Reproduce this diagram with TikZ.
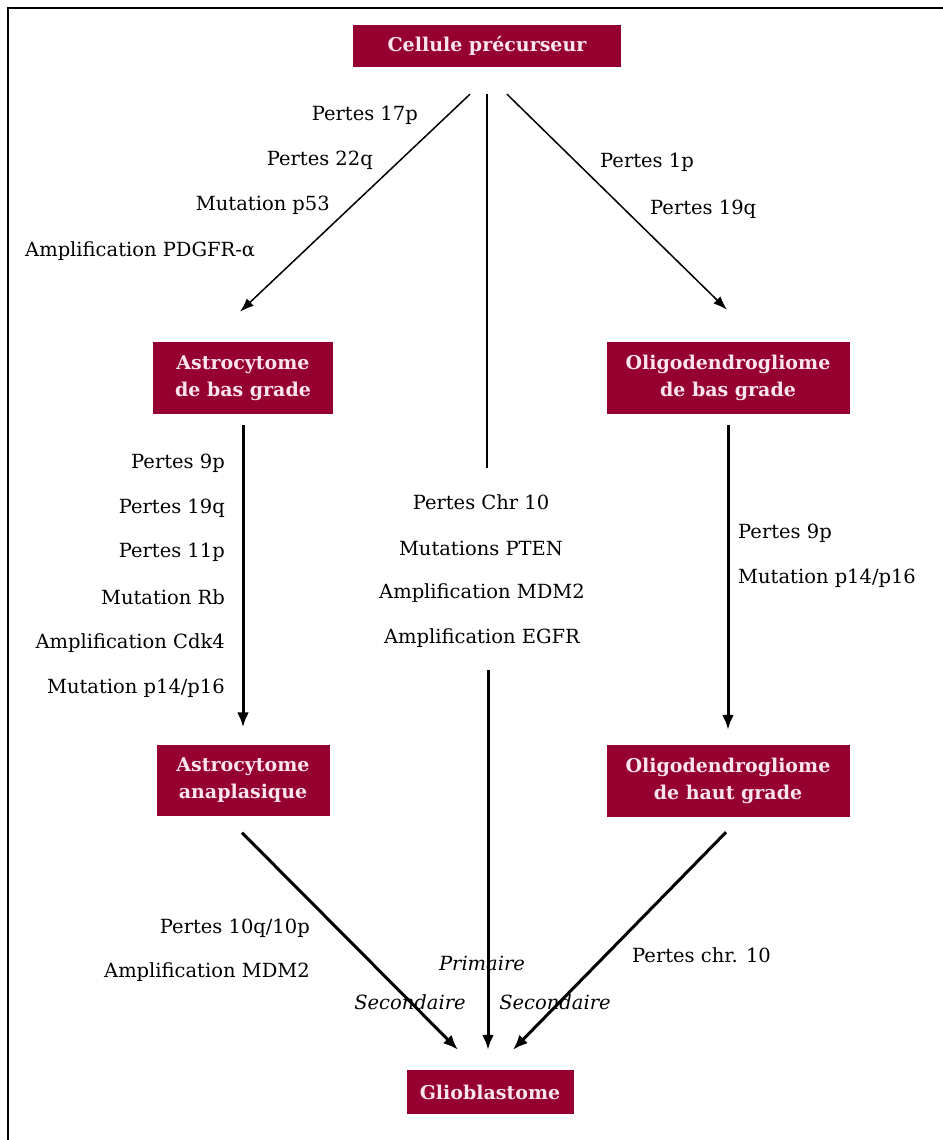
\documentclass[tikz,border=0pt]{standalone}
\usepackage{fontspec}
\setmainfont{DejaVu Serif}
\usetikzlibrary{arrows.meta,calc}
\definecolor{boxred}{RGB}{150,0,48}
\definecolor{boxtxt}{RGB}{250,228,238}
\begin{document}
\begin{tikzpicture}[x=1pt,y=-1pt,
  box/.style={fill=boxred, text=boxtxt, font=\bfseries\fontsize{19}{27}\selectfont,
    align=center, inner sep=0pt},
  lbl/.style={font=\fontsize{19.5}{22}\selectfont, inner sep=0pt},
  ilbl/.style={font=\itshape\fontsize{19.5}{22}\selectfont, inner sep=0pt},
  thinarr/.style={line width=1.5pt, -{Latex[length=14pt,width=10pt]}},
  thickarr/.style={line width=3pt, -{Latex[length=15pt,width=12pt]}},
  plainline/.style={line width=1.5pt}]
\useasboundingbox (0,0) rectangle (942,1140);
\draw[line width=2pt] (8,1141) -- (8,8) -- (943,8);

% boxes
\node[box, minimum width=268pt, minimum height=42pt] (cell) at (487,46) {Cellule précurseur};
\node[box, minimum width=180pt, minimum height=72pt] (astro1) at (243,378) {Astrocytome\\de bas grade};
\node[box, minimum width=243pt, minimum height=72pt] (oligo1) at (728,378) {Oligodendrogliome\\de bas grade};
\node[box, minimum width=173pt, minimum height=71pt] (astro2) at (243,780) {Astrocytome\\anaplasique};
\node[box, minimum width=243pt, minimum height=72pt] (oligo2) at (728,781) {Oligodendrogliome\\de haut grade};
\node[box, minimum width=167pt, minimum height=44pt] (glio) at (490,1092) {Glioblastome};

% connectors from the precursor
\draw[thinarr] ([xshift=-17pt,yshift=-27pt]cell.south) -- ([xshift=-3pt,yshift=30pt]astro1.north);
\coordinate (mtop) at (487,468);
\draw[plainline] ([yshift=-27pt]cell.south) -- (mtop);
\draw[thinarr] ([xshift=20pt,yshift=-27pt]cell.south) -- ([xshift=-1pt,yshift=32pt]oligo1.north);

% vertical arrows
\draw[thickarr] ([yshift=-11pt]astro1.south) -- ([yshift=17pt]astro2.north);
\draw[thickarr] ([yshift=-11pt]oligo1.south) -- ([yshift=15pt]oligo2.north);

% to glioblastome
\coordinate (mbot) at (488,670);
\draw[thickarr] (mbot) -- ([xshift=-2pt,yshift=20pt]glio.north);
\draw[thickarr] ([xshift=-1pt,yshift=-17pt]astro2.south) -- ([xshift=-32pt,yshift=20pt]glio.north);
\draw[thickarr] ([xshift=-2pt,yshift=-15pt]oligo2.south) -- ([xshift=23pt,yshift=20pt]glio.north);

% top-left labels
\node[lbl, anchor=east] (l1) at (418,115) {Pertes 17p};
\node[lbl, anchor=east] (l2) at (373,160) {Pertes 22q};
\node[lbl, anchor=east] (l3) at (330,205) {Mutation p53};
\node[lbl, anchor=west] (l4) at (25,251) {Amplification PDGFR-α};

% top-right labels
\node[lbl, anchor=west] (r1) at (600,162) {Pertes 1p};
\node[lbl, anchor=west] (r2) at (650,209) {Pertes 19q};

% left column labels
\node[lbl, anchor=east] (a1) at (225,463) {Pertes 9p};
\node[lbl, anchor=east] (a2) at (225,508) {Pertes 19q};
\node[lbl, anchor=east] (a3) at (225,552) {Pertes 11p};
\node[lbl, anchor=east] (a4) at (225,597) {Mutation Rb};
\node[lbl, anchor=east] (a5) at (225,643) {Amplification Cdk4};
\node[lbl, anchor=east] (a6) at (225,688) {Mutation p14/p16};

% middle labels
\node[lbl] (m1) at (481,502) {Pertes Chr 10};
\node[lbl] (m2) at (481,548) {Mutations PTEN};
\node[lbl] (m3) at (482,593) {Amplification MDM2};
\node[lbl] (m4) at (482,638) {Amplification EGFR};

% right column labels
\node[lbl, anchor=west] (o1) at (738,533) {Pertes 9p};
\node[lbl, anchor=west] (o2) at (738,578) {Mutation p14/p16};

% lower labels
\node[lbl, anchor=east] (b1) at (310,928) {Pertes 10q/10p};
\node[lbl, anchor=east] (b2) at (310,972) {Amplification MDM2};
\node[lbl, anchor=west] (c1) at (632,955) {Pertes chr. 10};
\node[ilbl] (p1) at (482,963) {Primaire};
\node[ilbl] (s1) at (410,1002) {Secondaire};
\node[ilbl] (s2) at (555,1002) {Secondaire};
\end{tikzpicture}
\end{document}
